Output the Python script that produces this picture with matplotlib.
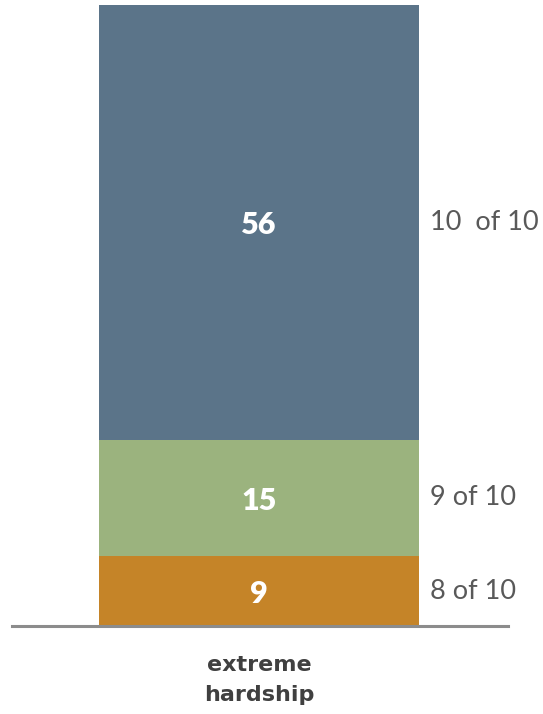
import matplotlib.pyplot as plt
import numpy as np

category = "extreme\nhardship"
values = [9, 15, 56]
colors = ["#C58428", "#9BB37E", "#5B7489"]
side_labels = ["8 of 10", "9 of 10", "10  of 10"]

fig = plt.figure(figsize=(5.43, 7.14), dpi=100)
ax = fig.add_axes([12 / 543, (714 - 626) / 714, 496 / 543, 621 / 714])

bottom = 0
for v, c, lab in zip(values, colors, side_labels):
    ax.bar(0, v, width=1.0, bottom=bottom, color=c, linewidth=0)
    mid = bottom + v / 2
    ax.text(0, mid - 0.35, str(v), ha="center", va="center", color="white",
            fontsize=22, fontweight="heavy", family="Lato")
    ax.text(0.535, mid, lab, ha="left", va="center", color="#595959",
            fontsize=19.5, family="Lato")
    bottom += v

ax.set_xlim(-0.772, 0.778)
ax.set_ylim(0, sum(values))
ax.axhline(0, color="#8c8c8c", lw=2.2, clip_on=False)
ax.axis("off")

ax.text(0, -6.95, category, ha="center", va="center", color="#404040",
        fontsize=16, fontweight="heavy", family="DejaVu Sans", linespacing=1.6)

fig.savefig("out.png", dpi=100)
